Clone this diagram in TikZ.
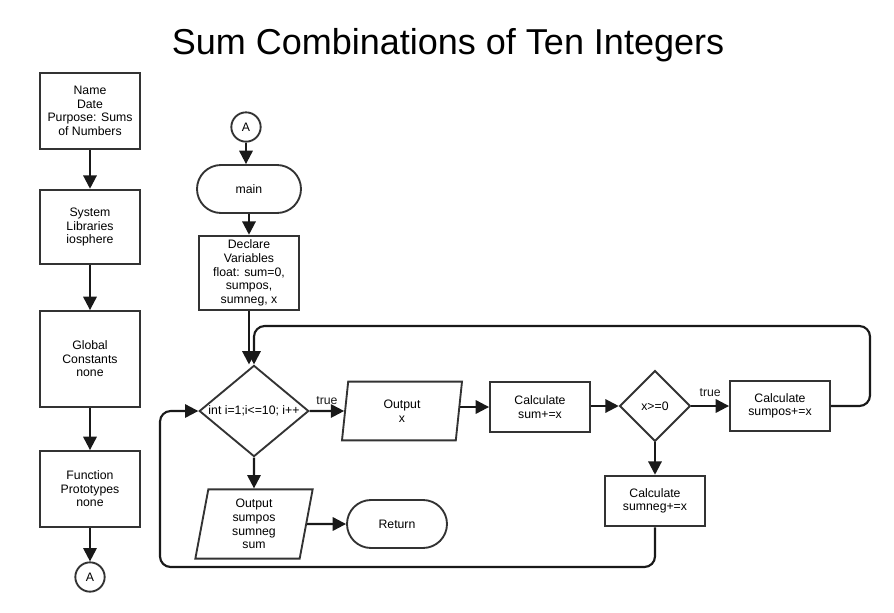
\documentclass[tikz,border=0pt]{standalone}
\usepackage{fontspec}
\setmainfont{Liberation Sans}
\usetikzlibrary{arrows.meta,positioning,shapes.geometric}

\begin{document}
\begin{tikzpicture}[x=0.75pt, y=-0.75pt,
      every node/.style={font=\fontsize{9.2}{10.2}\selectfont},
      procbox/.style={
        rectangle, draw=black!80, line width=1.4pt, inner sep=2pt,
        minimum width=75pt, align=center, fill=white
      },
      termbox/.style={
        rectangle, draw=black!80, line width=1.4pt, rounded corners=18pt,
        minimum width=78pt, minimum height=36pt, align=center
      },
      decbox/.style={
        diamond, draw=black!80, line width=1.4pt, aspect=1.2,
        inner sep=1pt, align=center
      },
      iobox/.style={
        trapezium, trapezium left angle=76, trapezium right angle=104,
        trapezium stretches body, draw=black!80, line width=1.4pt,
        inner sep=1pt, align=center
      },
      conn/.style={
        circle, draw=black!80, line width=1.4pt, minimum size=22pt, inner sep=0pt
      },
      arr/.style={-{Triangle[length=10pt, width=10pt]}, line width=1.6pt, black!90},
      lbl/.style={font=\fontsize{9.2}{10.2}\selectfont}
    ]
    \useasboundingbox (0,0) rectangle (894,612);

    % ===== Title =====
    \node[font=\fontsize{27}{32}\selectfont] (title) at (448,45)
      {Sum Combinations of Ten Integers};

    % ===== Left column: header records =====
    \node[procbox, minimum height=57pt] (header) at (90,111)
      {Name\\Date\\Purpose: Sums\\of Numbers};
    \node[procbox, minimum height=56pt] (syslib) at (90,227)
      {System\\Libraries\\iosphere};
    \node[procbox, minimum height=72pt] (globconst) at (90,359)
      {Global\\Constants\\none};
    \node[procbox, minimum height=57pt] (fproto) at (90,489)
      {Function\\Prototypes\\none};
    \node[conn] (connA1) at (90,577) {A};

    % ===== Middle column: main and the loop =====
    \node[conn] (connA2) at (246,127) {A};
    \node[termbox] (main) at (249,189) {main};
    \node[procbox, minimum height=56pt] (declare) at (249,273)
      {Declare\\Variables\\float: sum=0,\\sumpos,\\sumneg, x};
    \node[decbox, minimum width=82pt, minimum height=68pt] (forloop) at (254,411)
      {int i=1;i<=10; i++};
    \node[iobox, minimum width=90pt, minimum height=44pt] (outx) at (402,411)
      {Output\\x};
    \node[procbox, minimum height=38pt] (calcsum) at (540,407)
      {Calculate\\sum+=x};
    \node[decbox, minimum width=53pt, minimum height=53pt, aspect=1] (test) at (655,406)
      {x>=0};
    \node[procbox, minimum height=38pt] (sumpos) at (780,406)
      {Calculate\\sumpos+=x};
    \node[procbox, minimum height=38pt] (sumneg) at (655,501)
      {Calculate\\sumneg+=x};
    \node[iobox, minimum width=88pt, minimum height=52pt] (outsums) at (254,524)
      {Output\\sumpos\\sumneg\\sum};
    \node[termbox, minimum width=75pt] (return) at (397,524) {Return};

    % ===== Loop corners =====
    \coordinate (looptr) at (870,326);
    \coordinate (loopbl) at (160,567);

    % ===== Arrows: left column =====
    \draw[arr] (header) -- (syslib);
    \draw[arr] (syslib) -- (globconst);
    \draw[arr] (globconst) -- (fproto);
    \draw[arr] (fproto) -- (connA1);

    % ===== Arrows: main flow =====
    \draw[arr] (connA2) -- (connA2 |- main.north);
    \draw[arr] (main) -- (declare);
    \draw[arr] (declare.south) -- (declare.south |- forloop.north);
    \draw[arr] (forloop) -- (outx)
      node[lbl, midway, above, yshift=1pt] {true};
    \draw[arr] (outx.east |- calcsum.west) -- (calcsum.west);
    \draw[arr] (calcsum.east |- test.west) -- (test.west);
    \draw[arr] (test) -- (sumpos)
      node[lbl, midway, above, yshift=3pt] {true};
    \draw[arr] (test) -- (sumneg);
    \draw[arr] (forloop) -- (outsums);
    \draw[arr] (outsums) -- (return);

    % ===== Arrows: back to the loop head =====
    \draw[arr, rounded corners=8pt] (sumpos.east) -| (looptr) -| (forloop.north);
    \draw[arr, rounded corners=8pt] (sumneg.south) |- (loopbl) |- (forloop.west);
  \end{tikzpicture}
\end{document}
